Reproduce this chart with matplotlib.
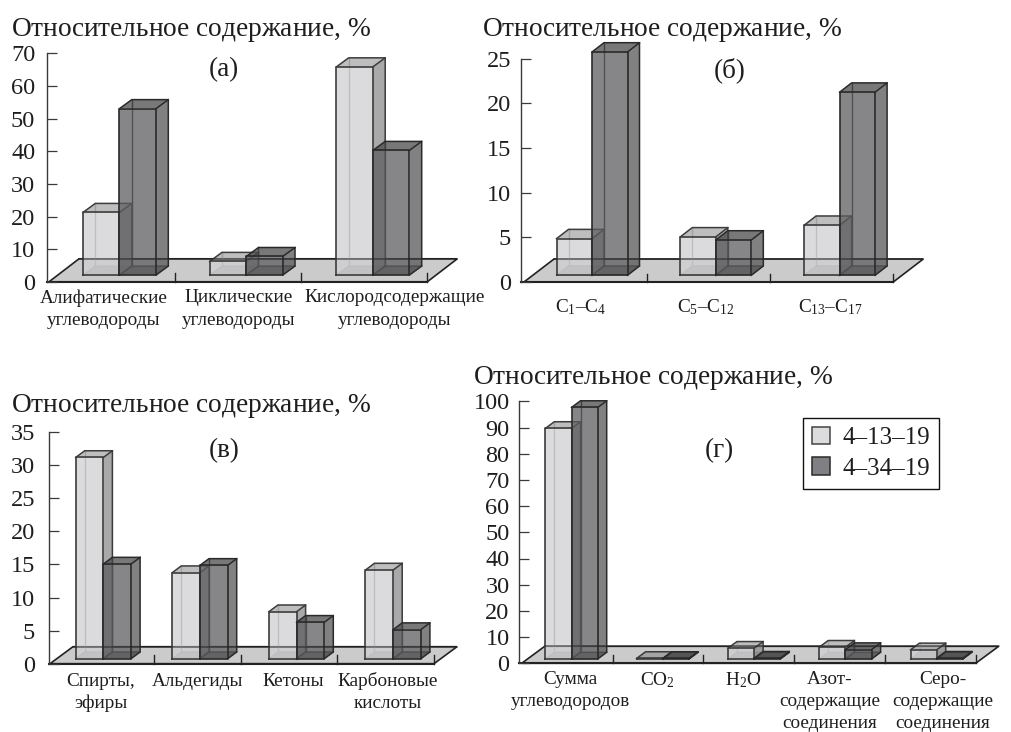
import matplotlib
matplotlib.use("Agg")
import matplotlib.pyplot as plt
from matplotlib.patches import Polygon, Patch

plt.rcParams['font.family'] = ['Liberation Serif', 'DejaVu Serif']
plt.rcParams['mathtext.fontset'] = 'custom'
plt.rcParams['mathtext.rm'] = 'Liberation Serif'
plt.rcParams['mathtext.it'] = 'Liberation Serif:italic'
plt.rcParams['mathtext.default'] = 'regular'

W, H = 1011, 732

# data (height of the bar above its foot)
series_names = ["4–13–19", "4–34–19"]

a_labels = ["Алифатические\nуглеводороды", "Циклические\nуглеводороды", "Кислородсодержащие\nуглеводороды"]
a_first = [19.2, 4.2, 63.8]
a_second = [51.0, 5.7, 38.2]
a_ticks = [0, 10, 20, 30, 40, 50, 60, 70]

b_labels = ["C$_{1}$–C$_{4}$", "C$_{5}$–C$_{12}$", "C$_{13}$–C$_{17}$"]
b_first = [4.1, 4.3, 5.6]
b_second = [25.0, 3.95, 20.5]
b_ticks = [0, 5, 10, 15, 20, 25]

c_labels = ["Спирты,\nэфиры", "Альдегиды", "Кетоны", "Карбоновые\nкислоты"]
c_first = [30.4, 13.0, 7.1, 13.4]
c_second = [14.3, 14.1, 5.5, 4.4]
c_ticks = [0, 5, 10, 15, 20, 25, 30, 35]

d_labels = ["Сумма\nуглеводородов", "CO$_{2}$", "H$_{2}$O", "Азот-\nсодержащие\nсоединения", "Серо-\nсодержащие\nсоединения"]
d_first = [88.0, 0.2, 4.1, 4.5, 3.5]
d_second = [96.0, 0.2, 0.3, 3.6, 0.3]
d_ticks = [0, 10, 20, 30, 40, 50, 60, 70, 80, 90, 100]

y_title = "Относительное содержание, $\\mathit{\\%}$"

# light and dark bar styles: front, side, top, edge, inner edge
LIGHT = ('#d0d0d2', '#8d8d8d', '#a8a8a8', '#3c3c3c', '#8c8c8c')
DARK = ('#5e5e62', '#575757', '#4b4b4b', '#2a2a2a', '#2a2a2a')
ALPHA = 0.75
FLOOR = '#cbcbcb'
INK = '#1e1e1e'


def px_axes(left, right, top, bottom):
    return fig.add_axes([left / W, 1 - bottom / H, (right - left) / W, (bottom - top) / H])


def poly(ax, pts, color, z):
    ax.add_patch(Polygon(pts, closed=True, fc=color, ec='none', alpha=ALPHA, zorder=z, clip_on=False))


def box(ax, x0, x1, y0, y1, dx, dy, style, z):
    front, side, top, edge, inner = style
    bx0, bx1, by0, by1 = x0 + dx, x1 + dx, y0 + dy, y1 + dy
    # what is behind the front, seen through it
    poly(ax, [(x0, y0), (x1, y0), (bx1, by0), (bx0, by0)], side, z)
    ax.plot([x0, bx0, bx1], [y0, by0, by0], color=inner, lw=1.0, zorder=z, clip_on=False)
    ax.plot([bx0, bx0], [by0, by1], color=inner, lw=1.0, zorder=z, clip_on=False)
    poly(ax, [(x0, y0), (x1, y0), (x1, y1), (x0, y1)], front, z + 0.1)
    poly(ax, [(x1, y0), (bx1, by0), (bx1, by1), (x1, y1)], side, z + 0.1)
    poly(ax, [(x0, y1), (x1, y1), (bx1, by1), (bx0, by1)], top, z + 0.1)
    ax.plot([x0, x1, x1, x0, x0], [y0, y0, y1, y1, y0], color=edge, lw=1.2, zorder=z + 0.2, clip_on=False)
    ax.plot([x1, bx1, bx1, x1], [y0, by0, by1, y1], color=edge, lw=1.1, zorder=z + 0.2, clip_on=False)
    ax.plot([x0, bx0, bx1], [y1, by1, by1], color=edge, lw=1.1, zorder=z + 0.2, clip_on=False)


def panel(spine, floor_l, floor_r, y_top, y_zero, ymax, ticks, first, second,
          bar_start, bar_step, bar_w, depth, foot, floor_depth, marks, pad):
    n = len(first)
    cw = (floor_r - floor_l) / n
    sc = (y_zero - y_top) / ymax
    ax = px_axes(spine, floor_r, y_top, y_zero)
    ax.set_xlim(-(floor_l - spine) / cw, n)
    ax.set_ylim(0, ymax)
    ax.patch.set_alpha(0)
    for s in ['top', 'right', 'bottom']:
        ax.spines[s].set_visible(False)
    ax.spines['left'].set_color('#3a3a3a')
    ax.spines['left'].set_linewidth(1.0)
    ax.set_xticks([])
    ax.set_yticks(ticks)
    ax.tick_params(axis='y', direction='in', length=7.5, width=0.9, color='#3a3a3a',
                   pad=pad, labelsize=17.5, labelcolor=INK)

    # floor
    fdx, fdy = floor_depth[0] / cw, floor_depth[1] / sc
    floor = [(0, 0), (n, 0), (n + fdx, fdy), (fdx, fdy)]
    ax.add_patch(Polygon(floor, closed=True, fc=FLOOR, ec='#222222', lw=1.2, zorder=1, clip_on=False))
    ax.plot([ax.get_xlim()[0], n], [0, 0], color='#222222', lw=1.5, zorder=1.2, clip_on=False)
    # back edge of the floor shows through the bars
    ax.plot([fdx, n + fdx], [fdy, fdy], color='#222222', lw=1.1, alpha=0.55, zorder=40, clip_on=False)
    for m in marks:
        ax.plot([m, m], [0, 8.5 / sc], color='#222222', lw=1.0, zorder=1.2, clip_on=False)

    # bars, light one then dark one in each group
    dx, dy = depth[0] / cw, depth[1] / sc
    base = foot / sc
    z = 2
    for i in range(n):
        x0 = (bar_start + i * bar_step) / cw
        w = bar_w / cw
        box(ax, x0, x0 + w, base, base + first[i], dx, dy, LIGHT, z)
        box(ax, x0 + w, x0 + 2 * w, base, base + second[i], dx, dy, DARK, z + 1)
        z += 2
    return ax


def put_text(x, y, s, size, ha='center', va='center'):
    fig.text(x / W, 1 - y / H, s, fontsize=size, ha=ha, va=va, color=INK)


def put_labels(labels, xs, y, step=22.5, size=13.9):
    for s, x in zip(labels, xs):
        for j, line in enumerate(s.split("\n")):
            put_text(x, y + j * step, line, size)


fig = plt.figure(figsize=(W / 100, H / 100), dpi=100)

panel(47, 49, 427.3, 53.3, 281.8, 70, a_ticks, a_first, a_second,
      34, 126.7, 36.5, (12.3, 9), 6.7, (30, 23), [1, 2, 3], 8.5)
panel(520.7, 524, 893.3, 58.7, 282, 25, b_ticks, b_first, b_second,
      32.5, 123.8, 35.5, (12, 9.3), 6.7, (30, 23), [1, 2, 3], 7)
panel(49, 50, 434, 432, 663.7, 35, c_ticks, c_first, c_second,
      25.7, 96.6, 27.7, (9, 6.7), 5, (23, 17), [1.083, 1.986, 2.986, 4], 10)
ax_d = panel(519.3, 521.7, 975.7, 401.3, 663.3, 100, d_ticks, d_first, d_second,
             23.6, 91.3, 26.2, (9, 6.7), 4.3, (23, 17), [1, 2, 3, 4, 5], 7)

put_text(11, 35.5, y_title, 19.7, ha='left', va='baseline')
put_text(482, 35.5, y_title, 19.7, ha='left', va='baseline')
put_text(11, 412, y_title, 19.7, ha='left', va='baseline')
put_text(473, 383.5, y_title, 19.7, ha='left', va='baseline')

put_text(224, 70, "(а)", 19.5)
put_text(730, 70, "(б)", 19.5)
put_text(224, 451, "(в)", 19.5)
put_text(719, 451, "(г)", 19.5)

put_labels(a_labels, [104, 239, 395], 298)
put_labels(b_labels, [580.7, 705.7, 830], 307)
put_labels(c_labels, [100.7, 197, 293, 388], 681)
put_labels(d_labels, [570, 657.7, 742.7, 830, 943], 680, step=21.5)

handles = [Patch(fc='#dcdcde', ec='#444444', lw=1.1, label=series_names[0]),
           Patch(fc='#808084', ec='#2a2a2a', lw=1.1, label=series_names[1])]
leg = ax_d.legend(handles=handles, loc='upper left',
                  bbox_to_anchor=(803.3 / W, 1 - 417.7 / H), bbox_transform=fig.transFigure,
                  fontsize=18, fancybox=False, edgecolor='#111111', framealpha=1,
                  handlelength=0.7, handleheight=0.7, handletextpad=0.5,
                  borderpad=0.36, labelspacing=0.33, borderaxespad=0)
leg.get_frame().set_linewidth(1.0)
leg.set_zorder(30)
for t in leg.get_texts():
    t.set_color(INK)

fig.savefig("out.png", dpi=100)
